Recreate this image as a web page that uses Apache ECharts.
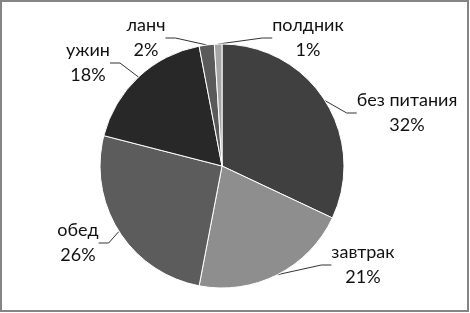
<!DOCTYPE html>
<html>
<head>
<meta charset="utf-8">
<script src="https://cdn.jsdelivr.net/npm/echarts@6/dist/echarts.min.js"></script>
<style>
html,body{margin:0;padding:0;background:#fff;}
#c{width:470px;height:313px;}
</style>
</head>
<body>
<div id="c"></div>
<script>
const categories = ['без питания', 'завтрак', 'обед', 'ужин', 'ланч', 'полдник'];
const values = [32, 21, 26, 18, 2, 1];
const colors = ['#404040', '#8e8e8e', '#5c5c5c', '#282828', '#5a5a5a', '#a6a6a6'];
// label block centres (layout only)
const labelPos = [[407, 113], [363, 265], [78, 243], [88, 63], [146, 38], [308, 38]];

const chart = echarts.init(document.getElementById('c'), null, {renderer: 'canvas'});
chart.setOption({
  animation: false,
  backgroundColor: '#fff',
  graphic: [{
    type: 'rect', z: 100,
    shape: {x: 1, y: 1, width: 467, height: 310},
    style: {fill: 'none', stroke: '#858585', lineWidth: 2}
  }],
  series: [{
    type: 'pie',
    center: [222, 166],
    radius: 122,
    startAngle: 90,
    clockwise: true,
    data: categories.map((n, i) => ({name: n, value: values[i], itemStyle: {color: colors[i]}})),
    itemStyle: {borderColor: '#fff', borderWidth: 1},
    label: {
      show: true,
      position: 'outside',
      formatter: p => p.name + '\n' + p.value + '%',
      fontFamily: 'Lato',
      fontSize: 18,
      lineHeight: 25,
      color: '#111',
      align: 'center'
    },
    labelLine: {show: true, length: 10, length2: 10, lineStyle: {color: '#333', width: 1}},
    labelLayout: function (p) {
      const pos = labelPos[p.dataIndex];
      return {x: pos[0], y: pos[1], align: 'center', verticalAlign: 'middle'};
    }
  }]
});
</script>
</body>
</html>
